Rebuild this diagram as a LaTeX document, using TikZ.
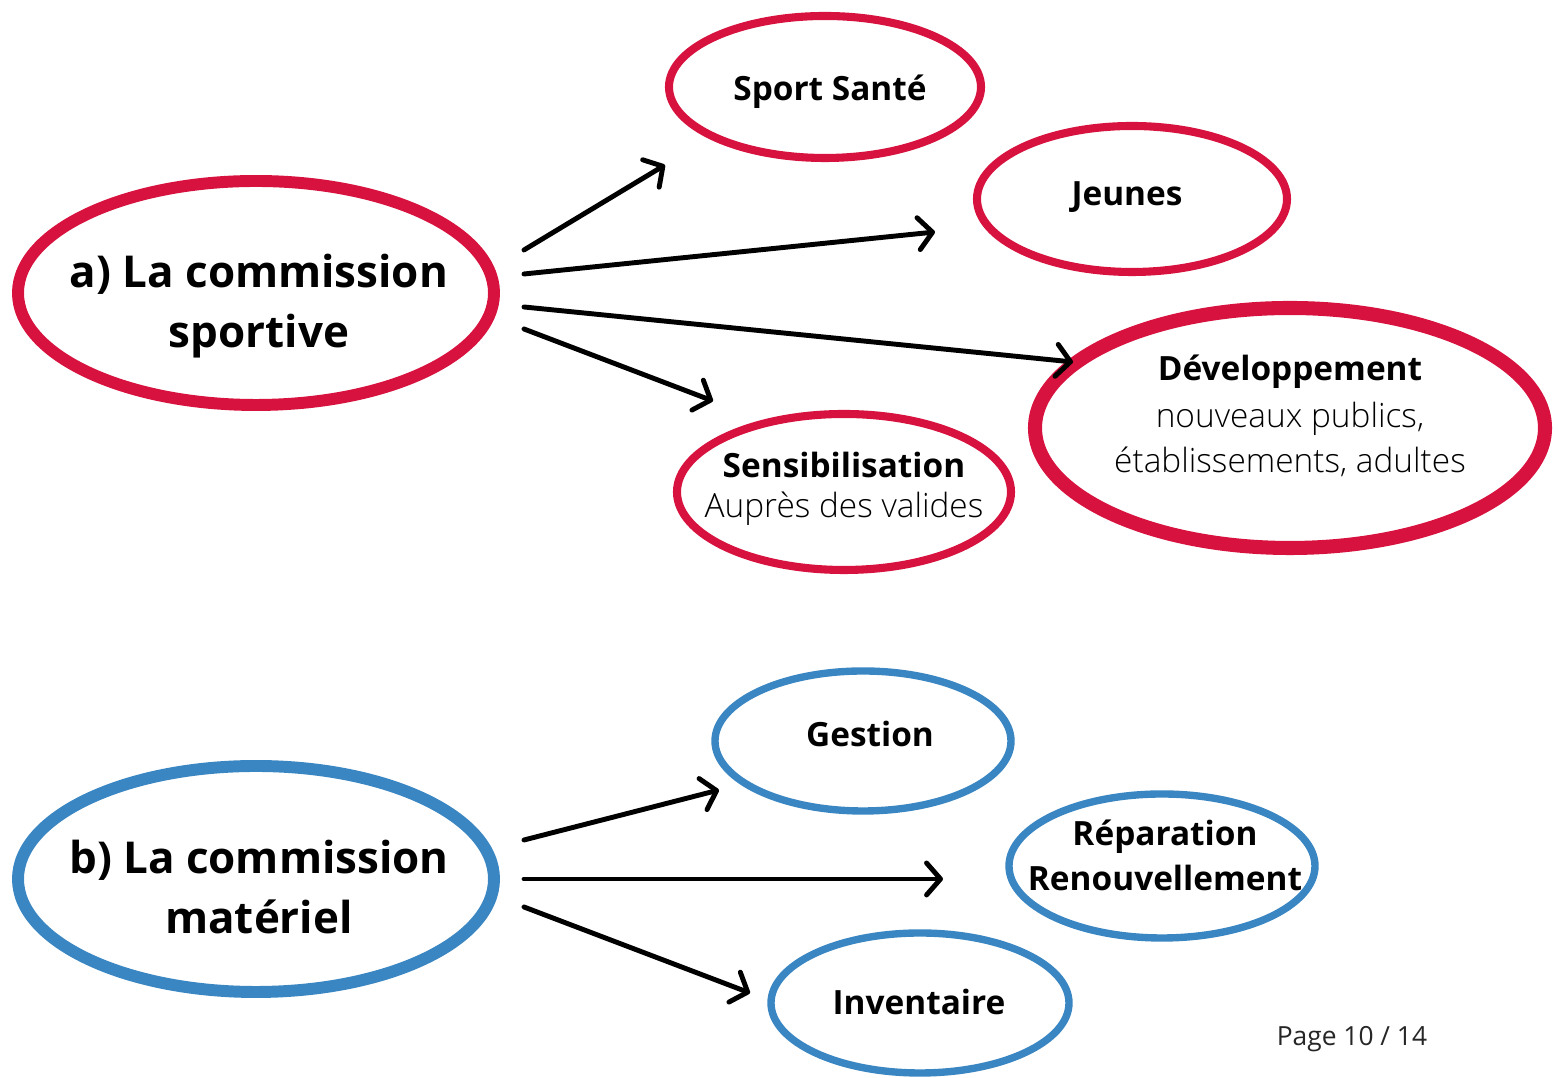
\documentclass[tikz,border=0pt]{standalone}
\usepackage{fontspec}
\setmainfont{Open Sans}
\newfontfamily\lightfont{Open Sans Light}
\usetikzlibrary{arrows.meta,shapes.geometric}
\definecolor{comred}{RGB}{215,18,62}
\definecolor{comblue}{RGB}{58,134,194}

\begin{document}
\begin{tikzpicture}[
	bulle/.style={ellipse, draw, inner sep=0pt},
	grand/.style={font=\fontsize{12.5}{17}\selectfont\bfseries, align=center},
	titre/.style={font=\fontsize{9.5}{12.8}\selectfont\bfseries, align=center},
	detail/.style={font=\fontsize{9.5}{12.8}\selectfont\lightfont, align=center},
	fleche/.style={line width=1.4pt, line cap=round, -{Straight Barb[length=1.4mm,width=3.2mm,round]}}
	]
	\useasboundingbox (0,0) rectangle (15.58,-10.78);
	
	% a) commission sportive
	\begin{scope}[every node/.append style={draw=comred}]
		\node[bulle, line width=3.4pt, minimum width=4.76cm, minimum height=2.24cm] (sportive) at (2.56,-2.93) {};
		\node[bulle, line width=2.3pt, minimum width=3.12cm, minimum height=1.42cm] (sante) at (8.25,-0.87) {};
		\node[bulle, line width=2.3pt, minimum width=3.10cm, minimum height=1.46cm] (jeunes) at (11.32,-1.99) {};
		\node[bulle, line width=4pt, minimum width=5.10cm, minimum height=2.40cm] (devel) at (12.90,-4.28) {};
		\node[bulle, line width=2.3pt, minimum width=3.34cm, minimum height=1.56cm] (sensib) at (8.44,-4.92) {};
	\end{scope}
	\node[grand] (sportivetxt) at (2.59,-3.06) {a) La commission\\sportive};
	\node[titre] (santetxt) at (8.30,-0.92) {Sport Santé};
	\node[titre] (jeunestxt) at (11.27,-1.97) {Jeunes};
	\node[titre] (develtxt) at (12.90,-3.72) {Développement};
	\node[detail] (develsub) at (12.90,-4.39) {nouveaux publics,\\établissements, adultes};
	\node[titre] (sensibtxt) at (8.44,-4.65) {Sensibilisation};
	\node[detail] (sensibsub) at (8.44,-5.09) {Auprès des valides};
	
	\coordinate (a1) at (5.24,-2.50); \coordinate (e1) at (6.65,-1.65);
	\coordinate (a2) at (5.24,-2.74); \coordinate (e2) at (9.35,-2.32);
	\coordinate (a3) at (5.24,-3.07); \coordinate (e3) at (10.73,-3.62);
	\coordinate (a4) at (5.24,-3.29); \coordinate (e4) at (7.13,-4.01);
	\draw[fleche] (a1) -- (e1);
	\draw[fleche] (a2) -- (e2);
	\draw[fleche] (a3) -- (e3);
	\draw[fleche] (a4) -- (e4);
	
	% b) commission materiel
	\begin{scope}[every node/.append style={draw=comblue}]
		\node[bulle, line width=3.4pt, minimum width=4.76cm, minimum height=2.26cm] (materiel) at (2.56,-8.79) {};
		\node[bulle, line width=2.1pt, minimum width=2.96cm, minimum height=1.40cm] (gestion) at (8.63,-7.41) {};
		\node[bulle, line width=2.1pt, minimum width=3.06cm, minimum height=1.44cm] (repar) at (11.62,-8.66) {};
		\node[bulle, line width=2.1pt, minimum width=2.98cm, minimum height=1.40cm] (invent) at (9.20,-10.03) {};
	\end{scope}
	\node[grand] (materieltxt) at (2.59,-8.87) {b) La commission\\matériel};
	\node[titre] (gestiontxt) at (8.70,-7.34) {Gestion};
	\node[titre] (repartxt) at (11.65,-8.55) {Réparation\\Renouvellement};
	\node[titre] (inventtxt) at (9.19,-10.02) {Inventaire};
	
	\coordinate (b1) at (5.24,-8.40); \coordinate (f1) at (7.19,-7.90);
	\coordinate (b2) at (5.24,-8.79); \coordinate (f2) at (9.43,-8.79);
	\coordinate (b3) at (5.24,-9.07); \coordinate (f3) at (7.50,-9.93);
	\draw[fleche] (b1) -- (f1);
	\draw[fleche] (b2) -- (f2);
	\draw[fleche] (b3) -- (f3);
	
	\node[font=\fontsize{7.5}{9}\selectfont, text=black!85] (page) at (13.52,-10.39) {Page 10 / 14};
\end{tikzpicture}
\end{document}
